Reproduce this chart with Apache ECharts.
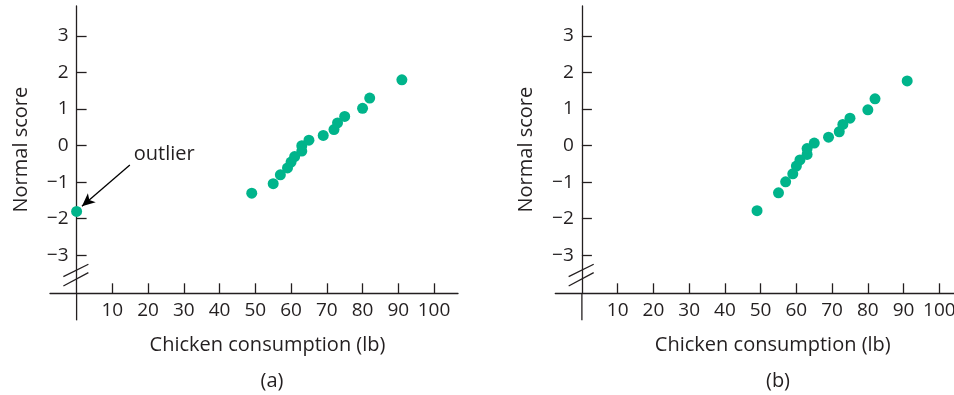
<!DOCTYPE html>
<html>
<head>
<meta charset="utf-8">
<script src="https://cdn.jsdelivr.net/npm/echarts@6/dist/echarts.min.js"></script>
<style>
html,body{margin:0;padding:0;background:#fff;}
#chart{width:954px;height:395px;}
</style>
</head>
<body>
<div id="chart"></div>
<script>
// Data: chicken consumption (lb) and normal scores
const consumptionA = [0, 49, 55, 57, 59, 60, 61, 63, 63, 65, 69, 72, 73, 75, 80, 82, 91];
const normalScoreA = [-1.80, -1.30, -1.04, -0.80, -0.61, -0.45, -0.30, -0.15, 0.00, 0.15, 0.28, 0.44, 0.62, 0.80, 1.02, 1.30, 1.80];
const consumptionB = [49, 55, 57, 59, 60, 61, 63, 63, 65, 69, 72, 73, 75, 80, 82, 91];
const normalScoreB = [-1.78, -1.29, -0.99, -0.77, -0.56, -0.39, -0.24, -0.08, 0.07, 0.23, 0.38, 0.58, 0.75, 0.98, 1.28, 1.77];
const xTickValues = [10, 20, 30, 40, 50, 60, 70, 80, 90, 100];
const yTickValues = [-3, -2, -1, 0, 1, 2, 3];
const panelLabels = ['(a)', '(b)'];
const xTitle = 'Chicken consumption (lb)';
const yTitle = 'Normal score';
const outlierText = 'outlier';

const FONT = 'Open Sans';
const INK = '#231f20';
const DOT = '#00b48b';

const X_MIN = -7.44, X_MAX = 106.7;
const Y_MIN = -4.04, Y_MAX = 3.82, Y_AXIS_EXT = -4.78;

function zip(xs, ys) { return xs.map((x, i) => [x, ys[i]]); }

const grids = [
  { left: 50, top: 6, width: 408, height: 287.3, containLabel: false, outerBoundsMode: 'none' },
  { left: 555.3, top: 6, width: 408, height: 287.3, containLabel: false, outerBoundsMode: 'none' }
];

const xAxes = grids.map((g, i) => ({
  type: 'value', gridIndex: i, min: X_MIN, max: X_MAX,
  name: xTitle, nameLocation: 'middle', nameGap: 42, nameMoveOverlap: false,
  nameTextStyle: { fontFamily: FONT, fontSize: 20, color: INK, padding: [0, 0, 0, 27] },
  axisLine: { onZero: false, lineStyle: { color: INK, width: 1.3 } },
  axisTick: { show: true, inside: true, length: 10, customValues: xTickValues, lineStyle: { color: INK, width: 1.3 } },
  axisLabel: { customValues: xTickValues, fontFamily: FONT, fontSize: 19, color: INK, margin: 8 },
  splitLine: { show: false }
}));

const yAxes = grids.map((g, i) => ({
  type: 'value', gridIndex: i, min: Y_MIN, max: Y_MAX,
  name: yTitle, nameLocation: 'middle', nameGap: 19, nameRotate: 90, nameMoveOverlap: false,
  nameTextStyle: { fontFamily: FONT, fontSize: 20, color: INK },
  axisLine: { onZero: true, lineStyle: { color: INK, width: 1.3 } },
  axisTick: { show: true, inside: true, length: 10, customValues: yTickValues, lineStyle: { color: INK, width: 1.3 } },
  axisLabel: { customValues: yTickValues, fontFamily: FONT, fontSize: 19, color: INK, margin: -18.5,
    formatter: v => (v < 0 ? '\u2212' + Math.abs(v) : String(v)) },
  splitLine: { show: false }
}));

const lineStyleInk = { color: INK, width: 1.3 };
const series = [];
[[consumptionA, normalScoreA], [consumptionB, normalScoreB]].forEach((d, i) => {
  // axis extension below the x-axis
  series.push({ type: 'line', xAxisIndex: i, yAxisIndex: i, data: [[0, Y_MIN], [0, Y_AXIS_EXT]],
    clip: false, symbol: 'none', silent: true, lineStyle: lineStyleInk, z: 1 });
  // axis break marks
  series.push({ type: 'line', xAxisIndex: i, yAxisIndex: i, data: [[-3.7, -3.585], [3.3, -3.246]],
    clip: false, symbol: 'none', silent: true, lineStyle: lineStyleInk, z: 1 });
  series.push({ type: 'line', xAxisIndex: i, yAxisIndex: i, data: [[-3.7, -3.84], [3.3, -3.476]],
    clip: false, symbol: 'none', silent: true, lineStyle: lineStyleInk, z: 1 });
  const sc = { type: 'scatter', xAxisIndex: i, yAxisIndex: i, data: zip(d[0], d[1]),
    symbol: 'circle', symbolSize: 11, clip: false, itemStyle: { color: DOT, opacity: 1 }, z: 5 };
  if (i === 0) {
    sc.markLine = { silent: true, symbol: ['none', 'arrow'], symbolSize: [9, 13], animation: false,
      label: { show: false }, lineStyle: { color: '#000', width: 1.3, type: 'solid' },
      data: [[{ coord: [14.9, -0.53] }, { coord: [1.5, -1.66] }]] };
    sc.markPoint = { silent: true, animation: false, symbol: 'circle', symbolSize: 0,
      data: [{ coord: [16.0, -0.24], label: { show: true, formatter: outlierText, position: 'right', distance: 0,
        fontFamily: FONT, fontSize: 20, color: INK } }] };
  }
  series.push(sc);
});

const chart = echarts.init(document.getElementById('chart'), null, { renderer: 'canvas' });
chart.setOption({
  animation: false,
  backgroundColor: '#fff',
  title: panelLabels.map((t, i) => ({ text: t, left: i === 0 ? 267 : 773, top: 366, textAlign: 'center',
    textStyle: { fontFamily: FONT, fontSize: 20, fontWeight: 'normal', color: INK } })),
  grid: grids,
  xAxis: xAxes,
  yAxis: yAxes,
  series: series
});
</script>
</body>
</html>
